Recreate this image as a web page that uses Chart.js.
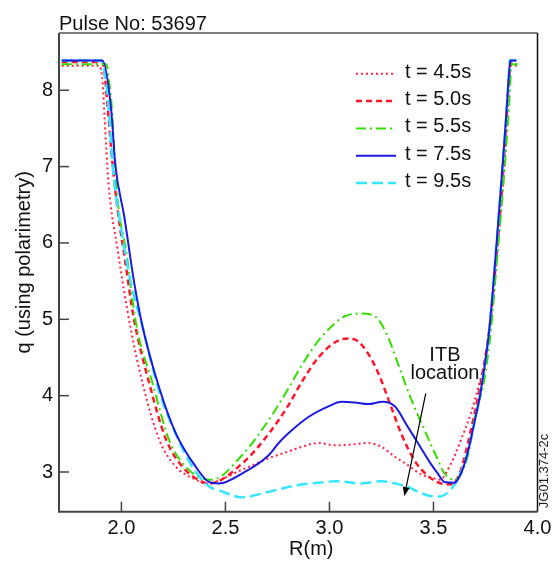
<!DOCTYPE html>
<html><head><meta charset="utf-8">
<script src="https://cdn.jsdelivr.net/npm/chart.js@4.4.0/dist/chart.umd.min.js"></script>
<style>html,body{margin:0;padding:0;background:#fff;}canvas{display:block;}</style>
</head><body>
<canvas id="c" width="552" height="561"></canvas>
<script>
// ---- data ----
const seriesLabels = ['t = 4.5s', 't = 5.0s', 't = 5.5s', 't = 7.5s', 't = 9.5s'];

const r45 = [1.713, 1.895, 1.910, 1.919, 1.938, 1.982, 2.043, 2.102, 2.182, 2.261, 2.357, 2.405, 2.580, 2.708, 2.804, 2.867, 2.947, 3.027, 3.106, 3.186, 3.250, 3.314, 3.377, 3.44, 3.50, 3.53, 3.584, 3.632, 3.680, 3.720, 3.744, 3.78, 3.81, 3.84, 3.86, 3.872, 3.90];
const q45 = [8.32, 8.32, 8.09, 7.65, 6.78, 5.91, 4.90, 4.16, 3.42, 3.07, 2.90, 2.85, 3.03, 3.18, 3.27, 3.33, 3.38, 3.35, 3.36, 3.38, 3.33, 3.20, 3.09, 2.97, 2.92, 2.90, 3.11, 3.42, 3.77, 4.16, 4.42, 5.1, 6.0, 7.0, 7.9, 8.32, 8.32];

const r50 = [1.713, 1.909, 1.934, 1.951, 1.982, 2.022, 2.057, 2.134, 2.214, 2.293, 2.389, 2.421, 2.580, 2.708, 2.804, 2.867, 2.947, 3.027, 3.090, 3.138, 3.186, 3.234, 3.297, 3.345, 3.409, 3.473, 3.536, 3.58, 3.60, 3.632, 3.680, 3.720, 3.768, 3.80, 3.83, 3.85, 3.866, 3.872, 3.90];
const q50 = [8.37, 8.37, 7.78, 7.22, 6.43, 5.69, 5.05, 4.16, 3.43, 3.07, 2.87, 2.85, 3.11, 3.50, 3.88, 4.18, 4.50, 4.70, 4.75, 4.71, 4.55, 4.30, 3.85, 3.50, 3.15, 2.95, 2.85, 2.84, 2.86, 3.03, 3.55, 4.07, 4.86, 5.75, 6.75, 7.6, 8.25, 8.37, 8.37];

const r55 = [1.713, 1.928, 1.942, 1.951, 1.966, 1.982, 2.022, 2.070, 2.150, 2.229, 2.309, 2.421, 2.435, 2.580, 2.708, 2.804, 2.867, 2.947, 3.027, 3.074, 3.138, 3.202, 3.234, 3.281, 3.345, 3.393, 3.457, 3.521, 3.553, 3.60, 3.664, 3.704, 3.744, 3.776, 3.808, 3.840, 3.863, 3.876, 3.905];
const q55 = [8.34, 8.34, 8.09, 7.87, 7.22, 6.56, 5.91, 4.95, 4.16, 3.42, 3.07, 2.90, 2.90, 3.22, 3.68, 4.10, 4.40, 4.72, 4.95, 5.04, 5.075, 5.06, 5.00, 4.77, 4.30, 3.95, 3.55, 3.16, 2.98, 2.90, 3.20, 3.77, 4.20, 4.86, 5.86, 6.91, 7.78, 8.34, 8.34];

const r75 = [1.713, 1.909, 1.951, 1.970, 2.014, 2.062, 2.102, 2.182, 2.261, 2.357, 2.421, 2.469, 2.580, 2.708, 2.756, 2.804, 2.899, 2.995, 3.058, 3.122, 3.186, 3.255, 3.314, 3.377, 3.425, 3.489, 3.521, 3.553, 3.600, 3.632, 3.664, 3.696, 3.728, 3.768, 3.792, 3.823, 3.847, 3.863, 3.869, 3.898];
const q75 = [8.39, 8.39, 7.74, 7.04, 6.34, 5.47, 4.90, 4.10, 3.51, 3.07, 2.87, 2.85, 2.98, 3.22, 3.38, 3.51, 3.72, 3.86, 3.92, 3.91, 3.89, 3.92, 3.86, 3.59, 3.38, 3.10, 2.98, 2.87, 2.86, 2.98, 3.25, 3.64, 4.07, 4.86, 5.60, 6.69, 7.56, 8.22, 8.39, 8.39];

const r95 = [1.713, 1.903, 1.927, 1.942, 1.958, 1.990, 2.046, 2.102, 2.182, 2.261, 2.341, 2.421, 2.469, 2.580, 2.708, 2.851, 2.991, 3.027, 3.154, 3.250, 3.345, 3.374, 3.425, 3.505, 3.530, 3.565, 3.605, 3.616, 3.664, 3.696, 3.728, 3.768, 3.792, 3.823, 3.847, 3.863, 3.866, 3.898];
const q95 = [8.39, 8.39, 8.09, 7.65, 7.00, 6.34, 5.47, 4.90, 4.05, 3.50, 3.07, 2.81, 2.76, 2.67, 2.74, 2.83, 2.87, 2.88, 2.85, 2.88, 2.83, 2.81, 2.74, 2.68, 2.68, 2.72, 2.85, 2.90, 3.25, 3.64, 4.07, 4.86, 5.60, 6.69, 7.56, 8.22, 8.39, 8.39];

const xTicks = [2.0, 2.5, 3.0, 3.5, 4.0];
const yTicks = [3, 4, 5, 6, 7, 8];

const chartTitle = 'Pulse No: 53697';
const xTitle = 'R(m)';
const yTitle = 'q (using polarimetry)';
const noteLines = ['ITB', 'location'];
const figId = 'JG01.374-2c';

// ---- styling / layout (not data) ----
const FONT = '"Liberation Sans", Arial, Helvetica, sans-serif';
const styles = [
  {color: '#ff2244', width: 2,   dash: [2, 3],          order: 5},
  {color: '#ff1428', width: 2.5, dash: [6, 4],          order: 4},
  {color: '#33dd00', width: 2,   dash: [10, 4, 2, 4],   order: 3},
  {color: '#1a1ae0', width: 2,   dash: [],              order: 1},
  {color: '#33e6ff', width: 2.5, dash: [11, 5],         order: 2}
];
const rs = [r45, r50, r55, r75, r95];
const qs = [q45, q50, q55, q75, q95];

const datasets = seriesLabels.map((lab, i) => ({
  label: lab,
  data: rs[i].map((r, j) => ({x: r, y: qs[i][j]})),
  borderColor: styles[i].color,
  borderWidth: styles[i].width,
  borderDash: styles[i].dash,
  order: styles[i].order,
  pointRadius: 0,
  fill: false,
  cubicInterpolationMode: 'monotone'
}));

const note = {textR: 3.555, textQ: [4.53, 4.29], fromR: 3.463, fromQ: 4.03, toR: 3.36, toQ: 2.686};

const decor = {
  id: 'decor',
  afterDraw(chart) {
    const {ctx, chartArea: a, scales: {x, y}} = chart;
    ctx.save();
    // frame
    ctx.lineWidth = 1.5;
    ctx.strokeStyle = '#555';
    ctx.beginPath(); ctx.moveTo(a.left, a.top); ctx.lineTo(a.right, a.top); ctx.stroke();
    ctx.strokeStyle = '#111';
    ctx.beginPath(); ctx.moveTo(a.right, a.top); ctx.lineTo(a.right, a.bottom); ctx.stroke();
    ctx.lineWidth = 2;
    ctx.strokeStyle = '#444';
    ctx.beginPath(); ctx.moveTo(a.left, a.top); ctx.lineTo(a.left, a.bottom); ctx.lineTo(a.right, a.bottom); ctx.stroke();
    // inward ticks
    ctx.lineWidth = 1.5;
    xTicks.forEach(v => {
      const px = x.getPixelForValue(v);
      if (px < a.right - 2) { ctx.beginPath(); ctx.moveTo(px, a.bottom); ctx.lineTo(px, a.bottom - 10); ctx.stroke(); }
    });
    yTicks.forEach(v => {
      const py = y.getPixelForValue(v);
      ctx.beginPath(); ctx.moveTo(a.left, py); ctx.lineTo(a.left + 10, py); ctx.stroke();
    });
    // title
    ctx.fillStyle = '#111';
    ctx.font = '20px ' + FONT;
    ctx.textAlign = 'left'; ctx.textBaseline = 'alphabetic';
    ctx.fillText(chartTitle, a.left, 30);
    // x title
    ctx.textAlign = 'center';
    ctx.fillText(xTitle, (a.left + a.right) / 2 + 13, 555);
    // y title
    ctx.save();
    ctx.translate(30, (a.top + a.bottom) / 2 - 10);
    ctx.rotate(-Math.PI / 2);
    ctx.textAlign = 'center'; ctx.textBaseline = 'alphabetic';
    ctx.fillText(yTitle, 0, 0);
    ctx.restore();
    // legend
    const rowY0 = 72.3, rowStep = 27.3;
    chart.data.datasets.forEach((ds, i) => {
      const yy = rowY0 + i * rowStep;
      ctx.save();
      ctx.strokeStyle = ds.borderColor; ctx.lineWidth = ds.borderWidth;
      ctx.setLineDash(ds.borderDash);
      ctx.beginPath(); ctx.moveTo(356, yy + 1.5); ctx.lineTo(396, yy + 1.5); ctx.stroke();
      ctx.restore();
      ctx.fillStyle = '#111';
      ctx.textAlign = 'left'; ctx.textBaseline = 'middle';
      ctx.fillText(ds.label, 405, yy);
    });
    // ITB annotation
    ctx.textAlign = 'center'; ctx.textBaseline = 'middle';
    noteLines.forEach((t, i) => ctx.fillText(t, x.getPixelForValue(note.textR), y.getPixelForValue(note.textQ[i])));
    const x1 = x.getPixelForValue(note.fromR), y1 = y.getPixelForValue(note.fromQ);
    const x2 = x.getPixelForValue(note.toR), y2 = y.getPixelForValue(note.toQ);
    const ang = Math.atan2(y2 - y1, x2 - x1);
    const hl = 9, hw = 3.5;
    ctx.strokeStyle = '#000'; ctx.lineWidth = 1.2;
    ctx.beginPath(); ctx.moveTo(x1, y1); ctx.lineTo(x2 - hl * Math.cos(ang), y2 - hl * Math.sin(ang)); ctx.stroke();
    ctx.fillStyle = '#000';
    ctx.beginPath();
    ctx.moveTo(x2, y2);
    ctx.lineTo(x2 - hl * Math.cos(ang) + hw * Math.sin(ang), y2 - hl * Math.sin(ang) - hw * Math.cos(ang));
    ctx.lineTo(x2 - hl * Math.cos(ang) - hw * Math.sin(ang), y2 - hl * Math.sin(ang) + hw * Math.cos(ang));
    ctx.closePath(); ctx.fill();
    // figure id
    ctx.save();
    ctx.fillStyle = '#222';
    ctx.font = '13px ' + FONT;
    ctx.translate(548, 471);
    ctx.rotate(-Math.PI / 2);
    ctx.textAlign = 'center'; ctx.textBaseline = 'alphabetic';
    ctx.fillText(figId, 0, 0);
    ctx.restore();
    ctx.restore();
  }
};

new Chart(document.getElementById('c'), {
  type: 'line',
  data: {datasets},
  options: {
    responsive: false,
    animation: false,
    layout: {padding: {left: 0, top: 33, right: 14.5, bottom: 0}},
    plugins: {legend: {display: false}, tooltip: {enabled: false}, title: {display: false}},
    scales: {
      x: {
        type: 'linear', min: 1.7, max: 4.0,
        afterBuildTicks: s => { s.ticks = xTicks.map(v => ({value: v})); },
        afterFit: s => { s.height = 49.3; s.paddingLeft = 0; s.paddingRight = 0; },
        grid: {display: false, drawTicks: false},
        border: {display: false},
        ticks: {padding: 5, color: '#111', font: {family: FONT, size: 20}, maxRotation: 0, autoSkip: false,
                callback: v => Number(v).toFixed(1)}
      },
      y: {
        type: 'linear', min: 2.48, max: 8.75,
        afterBuildTicks: s => { s.ticks = yTicks.map(v => ({value: v})); },
        afterFit: s => { s.width = 59; s.paddingTop = 0; s.paddingBottom = 0; },
        grid: {display: false, drawTicks: false},
        border: {display: false},
        ticks: {padding: 6, color: '#111', font: {family: FONT, size: 20}, autoSkip: false,
                callback: v => String(v)}
      }
    }
  },
  plugins: [decor]
});
</script>
</body></html>
